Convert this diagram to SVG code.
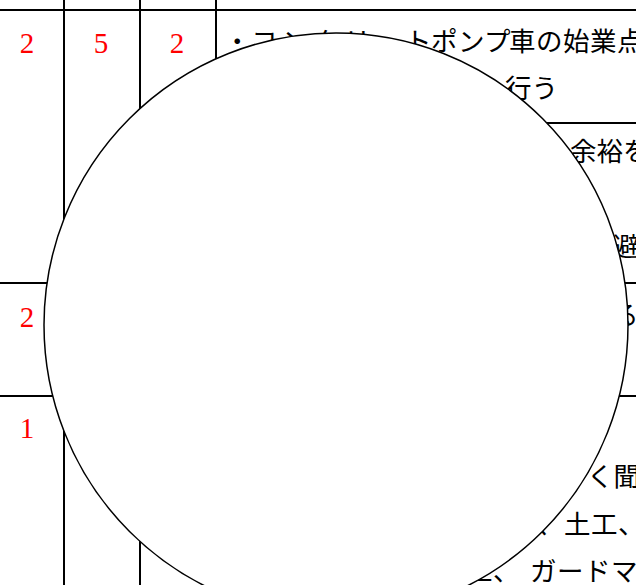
<svg xmlns="http://www.w3.org/2000/svg" width="636" height="585" viewBox="0 0 636 585">
<style>
.grid{stroke:#000;stroke-width:2;fill:none}
.num{font-family:"Liberation Serif","DejaVu Serif",serif;font-size:29px;fill:#ff0000;text-anchor:middle}
.jp{font-family:"Noto Sans CJK JP","Noto Sans",sans-serif;font-size:26.5px;fill:#000}
.lens{fill:#fff;stroke:#000;stroke-width:1.5}
</style>
<rect width="636" height="585" fill="#fff"/>
<g id="table-lines">
<line class="grid" x1="64" y1="0" x2="64" y2="585"/>
<line class="grid" x1="140" y1="0" x2="140" y2="585"/>
<line class="grid" x1="216" y1="0" x2="216" y2="585"/>
<line class="grid" x1="0" y1="10" x2="636" y2="10"/>
<line class="grid" x1="216" y1="123" x2="636" y2="123"/>
<line class="grid" x1="0" y1="283" x2="636" y2="283"/>
<line class="grid" x1="0" y1="396" x2="636" y2="396"/>
</g>
<g id="numbers">
<text class="num" x="27" y="53">2</text>
<text class="num" x="101" y="53">5</text>
<text class="num" x="177" y="53">2</text>
<text class="num" x="27" y="327">2</text>
<text class="num" x="27" y="438">1</text>
</g>
<g id="texts">
<text class="jp" x="224 251 282 313 344 375 405 431 458 484 509 536 563 590 617" y="51">・コンクリートポンプ車の始業点</text>
<text class="jp" x="505" y="98">行う</text>
<text class="jp" x="570" y="161">余裕を</text>
<text class="jp" x="613" y="256">避</text>
<text class="jp" x="612" y="325">る</text>
<text class="jp" x="587" y="486">く聞</text>
<text class="jp" x="537 564 591 618" y="534">、土工、</text>
<text class="jp" x="466 493 530 557 584 611" y="581">工、ガードマ</text>
</g>
<g id="lens">
<circle class="lens" cx="336" cy="325" r="292"/>
</g>
</svg>
